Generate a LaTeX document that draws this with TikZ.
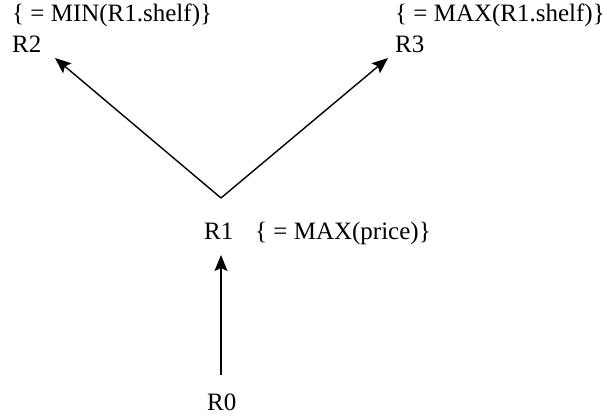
\documentclass[tikz,border=0pt]{standalone}
\usepackage{fontspec}
\setmainfont{Liberation Serif}
\usetikzlibrary{arrows.meta}
\begin{document}
\begin{tikzpicture}[x=1pt,y=1pt,
  lbl/.style={inner sep=0pt,anchor=base west,font=\fontsize{25}{30}\selectfont},
  conn/.style={line width=1.4pt,-{Stealth[length=16pt,width=13pt,inset=3pt]}}]
\useasboundingbox (0,0) rectangle (604,417);
\node[lbl] (mintxt) at (12,395) {\{ = MIN(R1.shelf)\}};
\node[lbl] (R2) at (12,364) {R2};
\node[lbl] (maxtxt) at (395,395) {\{ = MAX(R1.shelf)\}};
\node[lbl] (R3) at (395,364) {R3};
\node[lbl] (R1) at (204,177) {R1};
\node[lbl] (R1txt) at (255,177) {\{ = MAX(price)\}};
\node[lbl] (R0) at (207,7) {R0};
\coordinate (apex) at (221,219);
\coordinate (t2) at (55,359);
\coordinate (t3) at (388,359);
\coordinate (b0) at (221,42);
\coordinate (t1) at (221,162);
\draw[conn] (apex) -- (t2);
\draw[conn] (apex) -- (t3);
\draw[conn] (b0) -- (t1);
\end{tikzpicture}
\end{document}
